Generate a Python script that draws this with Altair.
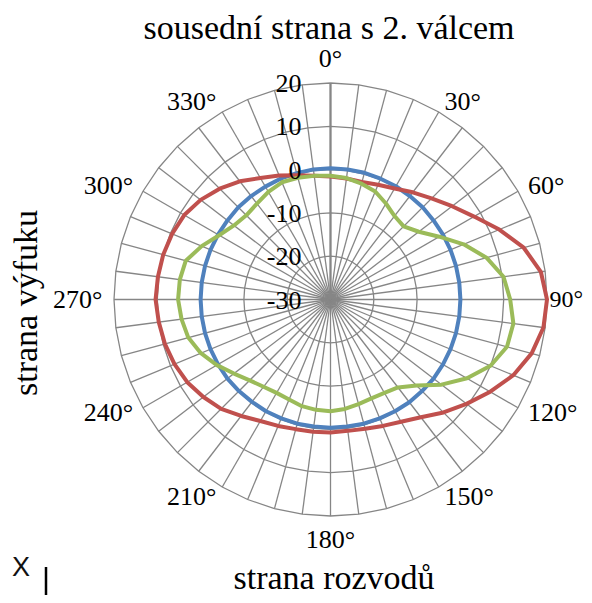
import altair as alt
import pandas as pd

# ---------------- data ----------------
ANGLES = [0, 7.5, 15, 22.5, 30, 37.5, 45, 52.5, 60, 67.5, 75, 82.5,
          90, 97.5, 105, 112.5, 120, 127.5, 135, 142.5, 150, 157.5, 165, 172.5,
          180, 187.5, 195, 202.5, 210, 217.5, 225, 232.5, 240, 247.5, 255, 262.5,
          270, 277.5, 285, 292.5, 300, 307.5, 315, 322.5, 330, 337.5, 345, 352.5]

BLUE = [0.3, 0.3, 0.3, 0.2, 0.2, 0.1, 0.1, 0.0, 0.0, 0.0, 0.0, 0.0,
        0.0, 0.0, 0.0, 0.0, 0.0, 0.0, -0.1, -0.1, -0.2, -0.3, -0.3, -0.4,
        -0.4, -0.4, -0.3, -0.3, -0.2, -0.2, -0.1, 0.0, 0.0, 0.0, 0.0, 0.0,
        0.0, 0.0, 0.0, 0.0, 0.0, 0.0, 0.1, 0.1, 0.1, 0.2, 0.2, 0.3]

RED = [-1.6, -1.8, -1.9, -1.3, -0.4, 1.2, 3.0, 5.4, 8.3, 12.2, 16.2, 19.0,
       20.0, 19.6, 18.1, 15.7, 12.6, 9.6, 6.9, 4.3, 2.6, 1.6, 0.9, 0.6,
       0.7, 0.8, 1.0, 1.6, 2.4, 3.9, 5.7, 7.0, 8.2, 9.0, 9.6, 10.0,
       10.4, 10.2, 10.0, 9.6, 9.0, 7.8, 6.2, 4.4, 2.4, 1.0, -0.3, -1.2]

GREEN = [-1.4, -1.7, -2.3, -3.0, -4.4, -5.7, -6.1, -4.3, -1.0, 3.3, 7.3, 10.3,
         11.5, 12.6, 12.2, 10.0, 6.4, 2.3, -1.9, -4.4, -5.1, -5.3, -5.0, -4.5,
         -4.2, -4.3, -4.5, -5.0, -5.1, -4.6, -3.6, -1.9, 0.3, 2.4, 4.0, 4.7,
         5.2, 5.1, 4.6, 2.2, -0.3, -1.9, -2.5, -2.1, -1.3, -0.7, -0.9, -1.2]

SERIES_NAMES = ["Řada1", "Řada2", "Řada3"]
SERIES_COLORS = ["#4F81BD", "#C0504D", "#9BBB59"]

R_MIN, R_MAX = -30, 20
RING_VALUES = [-20, -10, 0, 10, 20]
TICK_VALUES = [20, 10, 0, -10, -20, -30]
DEG_LABEL_ANGLES = [0, 30, 60, 90, 120, 150, 180, 210, 240, 270, 300, 330]

TITLE_TOP = "sousední strana s 2. válcem"
TITLE_LEFT = "strana výfuku"
TITLE_BOTTOM = "strana rozvodů"

# ---------------- tables ----------------
rows = []
for name, vals in zip(SERIES_NAMES, [BLUE, RED, GREEN]):
    closed_angles = ANGLES + [360]
    closed_vals = vals + vals[:1]
    for i, (a, v) in enumerate(zip(closed_angles, closed_vals)):
        rows.append({"series": name, "angle": a, "value": v, "order": i})
series_df = pd.DataFrame(rows)

ring_rows = []
for rv in RING_VALUES:
    for i, a in enumerate(ANGLES + [360]):
        ring_rows.append({"ring": rv, "angle": a, "idx": i})
ring_df = pd.DataFrame(ring_rows)

spoke_df = pd.DataFrame({"angle": ANGLES})
tick_df = pd.DataFrame({"value": TICK_VALUES, "label": [str(t) for t in TICK_VALUES]})
deg_df = pd.DataFrame({"angle": DEG_LABEL_ANGLES,
                       "label": [f"{a}°" for a in DEG_LABEL_ANGLES]})

SPAN = R_MAX - R_MIN
XS = alt.Scale(domain=[-SPAN, SPAN], nice=False, zero=False)
YS = alt.Scale(domain=[-SPAN, SPAN], nice=False, zero=False)
GRID = "#868686"
FONT = "Liberation Serif"

def polar(chart, rexpr):
    return chart.transform_calculate(
        r=rexpr
    ).transform_calculate(
        x="datum.r * sin(datum.angle * PI / 180)",
        y="datum.r * cos(datum.angle * PI / 180)",
    )

rings = polar(alt.Chart(ring_df), f"datum.ring - ({R_MIN})").mark_line(
    color=GRID, strokeWidth=1.3
).encode(
    x=alt.X("x:Q", scale=XS, axis=None),
    y=alt.Y("y:Q", scale=YS, axis=None),
    detail="ring:N",
    order="idx:Q",
)

spokes = alt.Chart(spoke_df).transform_calculate(
    x0="0", y0="0",
    x2=f"{SPAN} * sin(datum.angle * PI / 180)",
    y2=f"{SPAN} * cos(datum.angle * PI / 180)",
).mark_rule(color=GRID, strokeWidth=1.3).encode(
    x=alt.X("x0:Q", scale=XS, axis=None),
    y=alt.Y("y0:Q", scale=YS, axis=None),
    x2="x2:Q",
    y2="y2:Q",
)

axis_line = alt.Chart(spoke_df).transform_filter("datum.angle == 0").transform_calculate(
    x0="0", y0="0",
    x2=f"{SPAN} * sin(datum.angle * PI / 180)",
    y2=f"{SPAN} * cos(datum.angle * PI / 180)",
).mark_rule(color=GRID, strokeWidth=2.2).encode(
    x=alt.X("x0:Q", scale=XS, axis=None),
    y=alt.Y("y0:Q", scale=YS, axis=None),
    x2="x2:Q",
    y2="y2:Q",
)

lines = polar(alt.Chart(series_df), f"datum.value - ({R_MIN})").mark_line(
    strokeWidth=4, strokeJoin="round", strokeCap="round"
).encode(
    x=alt.X("x:Q", scale=XS, axis=None),
    y=alt.Y("y:Q", scale=YS, axis=None),
    color=alt.Color("series:N", scale=alt.Scale(domain=SERIES_NAMES, range=SERIES_COLORS),
                    legend=None),
    order="order:Q",
)

tick_labels = alt.Chart(tick_df).transform_calculate(
    x0="0", y=f"datum.value - ({R_MIN})"
).mark_text(align="right", baseline="middle", dx=-29, dy=1, fontSize=26,
            font=FONT, color="black").encode(
    x=alt.X("x0:Q", scale=XS, axis=None),
    y=alt.Y("y:Q", scale=YS, axis=None),
    text="label:N",
)

LABEL_R = 52.65

def deg_layer(filt, align, baseline, size=26, dx=0):
    return alt.Chart(deg_df).transform_filter(filt).transform_calculate(
        x=f"{LABEL_R} * sin(datum.angle * PI / 180)",
        y=f"{LABEL_R} * cos(datum.angle * PI / 180)",
    ).mark_text(align=align, baseline=baseline, fontSize=size, font=FONT,
                color="black", dx=dx).encode(
        x=alt.X("x:Q", scale=XS, axis=None),
        y=alt.Y("y:Q", scale=YS, axis=None),
        text="label:N",
    )

deg_right = deg_layer("datum.angle > 0 && datum.angle < 180 && datum.angle != 90",
                      "left", "middle")
deg_90 = deg_layer("datum.angle == 90", "left", "middle", size=24, dx=-9)
deg_left = deg_layer("datum.angle > 180", "right", "middle")
deg_top = deg_layer("datum.angle == 0", "center", "bottom")
deg_bottom = deg_layer("datum.angle == 180", "center", "top")

title_top = alt.Chart(pd.DataFrame({"t": [TITLE_TOP]})).mark_text(
    fontSize=34, font=FONT, color="black", align="center", baseline="alphabetic"
).encode(x=alt.value(215), y=alt.value(-44.5), text="t:N")

title_left = alt.Chart(pd.DataFrame({"t": [TITLE_LEFT]})).mark_text(
    fontSize=34, font=FONT, color="black", align="center", baseline="alphabetic",
    angle=270
).encode(x=alt.value(-77), y=alt.value(220), text="t:N")

title_bottom = alt.Chart(pd.DataFrame({"t": [TITLE_BOTTOM]})).mark_text(
    fontSize=34, font=FONT, color="black", align="center", baseline="alphabetic"
).encode(x=alt.value(220), y=alt.value(506), text="t:N")

x_mark = alt.Chart(pd.DataFrame({"t": ["X"]})).mark_text(
    fontSize=27, font="Liberation Sans", color="#111111", align="center",
    baseline="alphabetic"
).encode(x=alt.value(-93), y=alt.value(493), text="t:N")

cursor_bar = alt.Chart(pd.DataFrame({"t": ["|"]})).mark_rule(
    color="black", strokeWidth=2.5
).encode(x=alt.value(-68), y=alt.value(484), y2=alt.value(525))

chart = alt.layer(
    rings, spokes, axis_line, lines, tick_labels,
    deg_right, deg_90, deg_left, deg_top, deg_bottom,
    title_top, title_left, title_bottom, x_mark, cursor_bar,
).properties(
    width=433, height=433,
    autosize=alt.AutoSizeParams(type="none"),
    padding={"left": 106, "top": 75, "right": 37, "bottom": 79},
    background="white",
).configure_view(strokeWidth=0)

chart.save("out.html", embed_options={"renderer": "svg", "actions": False})
